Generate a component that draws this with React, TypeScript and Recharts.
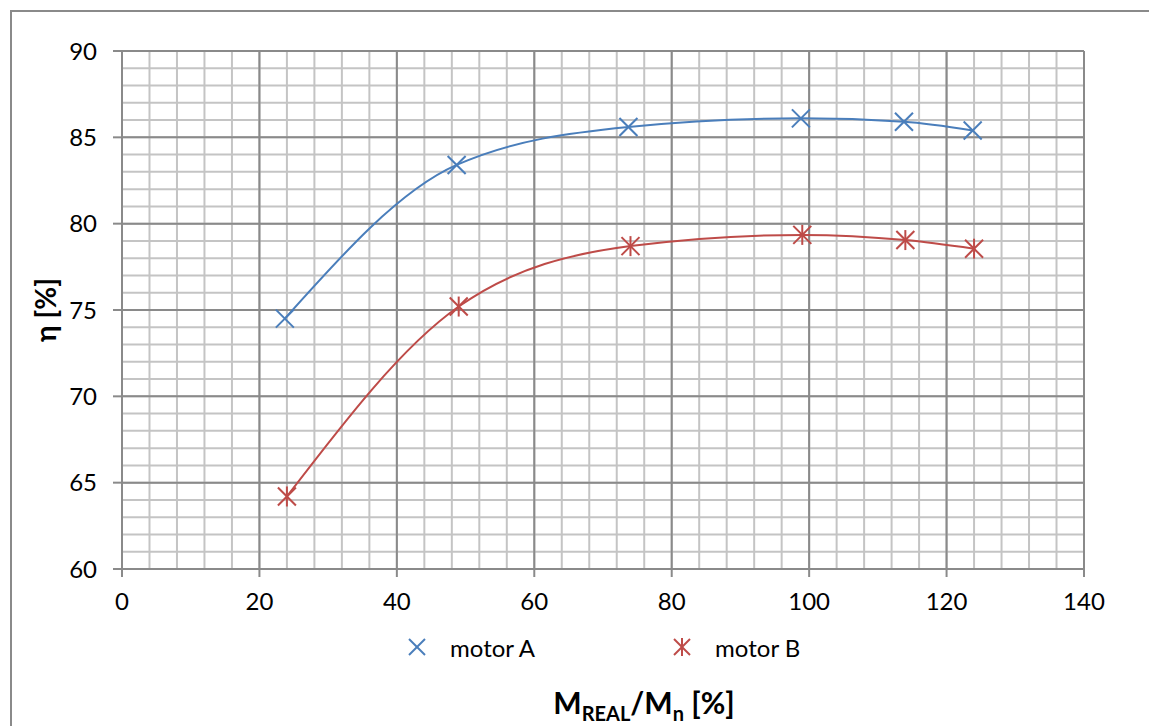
import React from "react"
import { ComposedChart, Line, XAxis, YAxis, CartesianGrid } from "recharts"

const loadA = [23.7, 48.7, 73.7, 98.8, 113.8, 123.8]
const effA = [74.5, 83.4, 85.6, 86.1, 85.9, 85.4]
const loadB = [24, 49, 74, 99, 114, 124]
const effB = [64.2, 75.2, 78.7, 79.35, 79.05, 78.55]

const xTicks = [0, 20, 40, 60, 80, 100, 120, 140]
const yTicks = [60, 65, 70, 75, 80, 85, 90]
const xMinor = Array.from({ length: 36 }, (_, i) => i * 4)
const yMinor = Array.from({ length: 31 }, (_, i) => 60 + i)

const seriesA = loadA.map((x, i) => ({ load: x, eff: effA[i] }))
const seriesB = loadB.map((x, i) => ({ load: x, eff: effB[i] }))

const BLUE = "#4a7ebb"
const RED = "#be4b48"
const FONT = "Lato, 'Open Sans', sans-serif"

const CrossMark = ({ cx, cy, color, r = 9 }: any) => (
  <g stroke={color} strokeWidth={2} fill="none">
    <line x1={cx - r} y1={cy - r} x2={cx + r} y2={cy + r} />
    <line x1={cx - r} y1={cy + r} x2={cx + r} y2={cy - r} />
  </g>
)

const StarMark = ({ cx, cy, color, r = 9 }: any) => (
  <g stroke={color} strokeWidth={2} fill="none">
    <line x1={cx - r} y1={cy - r} x2={cx + r} y2={cy + r} />
    <line x1={cx - r} y1={cy + r} x2={cx + r} y2={cy - r} />
    <line x1={cx} y1={cy - r - 1} x2={cx} y2={cy + r + 1} />
  </g>
)

const YTitle = ({ viewBox }: any) => {
  const cx = viewBox.x + 46
  const cy = viewBox.y + viewBox.height / 2
  return (
    <text
      x={cx}
      y={cy}
      dy="0.35em"
      textAnchor="middle"
      transform={`rotate(-90, ${cx}, ${cy})`}
      fontFamily={FONT}
      fontWeight="bold"
      fontSize={28}
      fill="#000"
    >
      η [%]
    </text>
  )
}

const XTitle = ({ viewBox }: any) => {
  const cx = viewBox.x + viewBox.width / 2 + 41
  return (
    <text x={cx} y={714} textAnchor="middle" fontFamily={FONT} fontWeight="bold" fontSize={30} fill="#000">
      M
      <tspan fontSize={20} dy={7}>REAL</tspan>
      <tspan dy={-7}>/M</tspan>
      <tspan fontSize={20} dy={7}>n</tspan>
      <tspan dy={-7}> [%]</tspan>
    </text>
  )
}

// minor grid positions through the axis scale (fallback: linear over the plot box)
const minorX = ({ xAxis, offset }: any) =>
  xMinor.map((v) =>
    xAxis && typeof xAxis.scale === "function" ? xAxis.scale(v) : offset.left + (v / 140) * offset.width
  )
const minorY = ({ yAxis, offset }: any) =>
  yMinor.map((v) =>
    yAxis && typeof yAxis.scale === "function"
      ? yAxis.scale(v)
      : offset.top + ((90 - v) / 30) * offset.height
  )

export default function App() {
  return (
    <div style={{ position: "absolute", left: 0, top: 0, width: 1149, height: 726, background: "#fff", overflow: "hidden" }}>
      <div
        style={{
          position: "absolute",
          left: 10,
          top: 10,
          width: 1150,
          height: 760,
          border: "2px solid #8a8a8a",
          boxSizing: "border-box",
        }}
      />
      <div style={{ position: "absolute", left: 0, top: 0 }}>
        <ComposedChart width={1149} height={726} margin={{ top: 51, right: 65, left: 0, bottom: 97 }}>
          <CartesianGrid
            stroke="#c4c4c4"
            strokeWidth={2}
            verticalCoordinatesGenerator={minorX}
            horizontalCoordinatesGenerator={minorY}
          />
          <XAxis
            type="number"
            dataKey="load"
            domain={[0, 140]}
            ticks={xTicks}
            height={60}
            tickSize={8}
            tickMargin={16}
            stroke="#8a8a8a"
            strokeWidth={2}
            tick={{ fill: "#000", fontSize: 24, fontFamily: FONT }}
            label={<XTitle />}
          />
          <YAxis
            type="number"
            domain={[60, 90]}
            ticks={yTicks}
            width={122}
            tickSize={9}
            tickMargin={16}
            stroke="#8a8a8a"
            strokeWidth={2}
            tick={{ fill: "#000", fontSize: 24, fontFamily: FONT }}
            label={<YTitle />}
          />
          <CartesianGrid stroke="#8a8a8a" strokeWidth={2} fill="none" />
          <Line
            data={seriesA}
            dataKey="eff"
            type="monotone"
            stroke={BLUE}
            strokeWidth={2}
            isAnimationActive={false}
            dot={(p: any) => <CrossMark key={`a-${p.index}`} cx={p.cx} cy={p.cy} color={BLUE} />}
            activeDot={false}
          />
          <Line
            data={seriesB}
            dataKey="eff"
            type="monotone"
            stroke={RED}
            strokeWidth={2}
            isAnimationActive={false}
            dot={(p: any) => <StarMark key={`b-${p.index}`} cx={p.cx} cy={p.cy} color={RED} />}
            activeDot={false}
          />
        </ComposedChart>
      </div>
      <div
        style={{
          position: "absolute",
          top: 632,
          left: 400,
          display: "flex",
          alignItems: "center",
          fontFamily: FONT,
          fontSize: 24,
          color: "#000",
        }}
      >
        <svg width={36} height={30}>
          <CrossMark cx={17} cy={15} color={BLUE} r={8} />
        </svg>
        <span style={{ marginLeft: 14 }}>motor A</span>
        <svg width={36} height={30} style={{ marginLeft: 130 }}>
          <StarMark cx={17} cy={15} color={RED} r={8} />
        </svg>
        <span style={{ marginLeft: 14 }}>motor B</span>
      </div>
    </div>
  )
}
